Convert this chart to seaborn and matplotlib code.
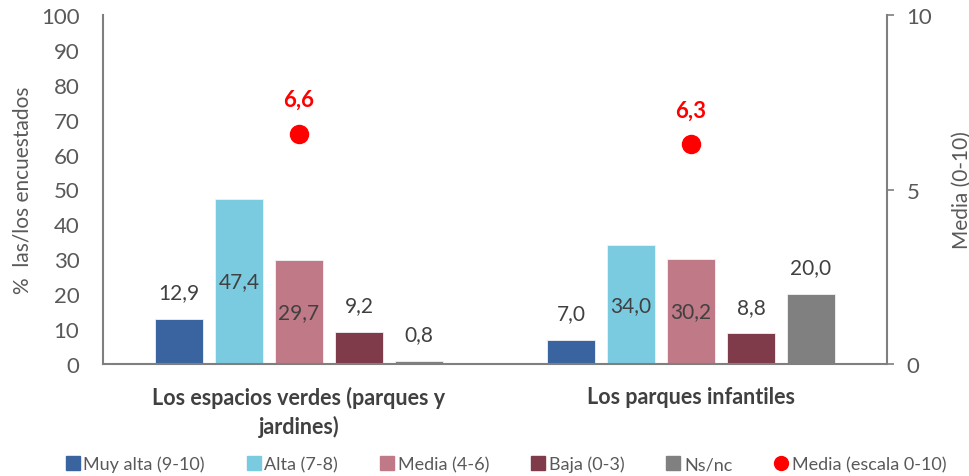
import pandas as pd
import numpy as np
import matplotlib
matplotlib.use("Agg")
import matplotlib.pyplot as plt
from matplotlib.lines import Line2D
import seaborn as sns

# data
categorias = ["Los espacios verdes (parques y\njardines)", "Los parques infantiles"]
niveles = ["Muy alta (9-10)", "Alta (7-8)", "Media (4-6)", "Baja (0-3)", "Ns/nc"]
muy_alta = [12.9, 7.0]
alta = [47.4, 34.0]
media_46 = [29.7, 30.2]
baja = [9.2, 8.8]
nsnc = [0.8, 20.0]
media_escala = [6.6, 6.3]

colores = ["#3A64A0", "#7ACBE0", "#C07986", "#7F3B4A", "#808080"]
rojo = "#FF0000"
gris = "#595959"

series = [muy_alta, alta, media_46, baja, nsnc]
filas = []
for nivel, vals in zip(niveles, series):
    for cat, v in zip(categorias, vals):
        filas.append({"categoria": cat, "nivel": nivel, "valor": v})
df = pd.DataFrame(filas)

sns.set_theme(style="white")
plt.rcParams["font.family"] = ["Lato", "DejaVu Sans"]

fig = plt.figure(figsize=(9.7, 4.77), dpi=100)
ax = fig.add_axes([103 / 970, 1 - 365 / 477, 784 / 970, 349 / 477])

sns.barplot(data=df, x="categoria", y="valor", hue="nivel", hue_order=niveles,
            order=categorias, palette=colores, saturation=1, width=0.765, gap=0.2,
            edgecolor="#F2F2F2", linewidth=0.6, legend=False, ax=ax)

# value labels: Alta and Media inside, the rest above
for i, cont in enumerate(ax.containers):
    labs = [f"{v:.1f}".replace(".", ",") for v in series[i]]
    if niveles[i] in ("Alta (7-8)", "Media (4-6)"):
        ax.bar_label(cont, labels=labs, label_type="center", fontsize=15, color="#404040")
    else:
        ax.bar_label(cont, labels=labs, padding=12, fontsize=15, color="#404040")

ax.set_xlim(-0.5, 1.5)
ax.set_ylim(0, 100)
ax.set_yticks(np.arange(0, 101, 10))
ax.set_xlabel("")
ax.set_ylabel("%  las/los encuestados", fontsize=15, color=gris, labelpad=6)
ax.tick_params(axis="y", length=0, labelsize=16, labelcolor=gris, pad=17)
ax.tick_params(axis="x", length=0, labelsize=15.5, pad=16)
for lab in ax.get_xticklabels():
    lab.set_fontweight("bold")
    lab.set_color("#404040")
    lab.set_linespacing(1.35)
for s in ["top", "right"]:
    ax.spines[s].set_visible(False)
for s in ["left", "bottom"]:
    ax.spines[s].set_color("#7F7F7F")
    ax.spines[s].set_linewidth(1.5)

# secondary axis for the mean score
ax2 = ax.twinx()
xs = np.arange(len(categorias))
ax2.plot(xs, media_escala, "o", color=rojo, markersize=13, linestyle="none")
for x, v in zip(xs, media_escala):
    ax2.annotate(f"{v:.1f}".replace(".", ","), (x, v), xytext=(0, 17),
                 textcoords="offset points", ha="center", va="bottom",
                 color=rojo, fontsize=16, fontweight="bold")
ax2.set_ylim(0, 10)
ax2.set_yticks([0, 5, 10])
ax2.set_ylabel("Media (0-10)", fontsize=15, color=gris, labelpad=14)
ax2.tick_params(axis="y", length=5, width=1.2, color="#7F7F7F", labelsize=16,
                labelcolor=gris, pad=9)
for s in ["top", "left", "bottom"]:
    ax2.spines[s].set_visible(False)
ax2.spines["right"].set_color("#7F7F7F")
ax2.spines["right"].set_linewidth(1.5)

handles = [Line2D([], [], marker="s", linestyle="none", color=c, markersize=10)
           for c in colores]
handles.append(Line2D([], [], marker="o", linestyle="none", color=rojo, markersize=10))
etiquetas = niveles + ["Media (escala 0-10)"]
fig.legend(handles, etiquetas, loc="center", bbox_to_anchor=(505 / 970, 1 - 465 / 477),
           ncol=6, frameon=False, fontsize=13, labelcolor=gris, handletextpad=0.1,
           columnspacing=2.2, handlelength=1.0)

fig.savefig("out.png", dpi=100)
